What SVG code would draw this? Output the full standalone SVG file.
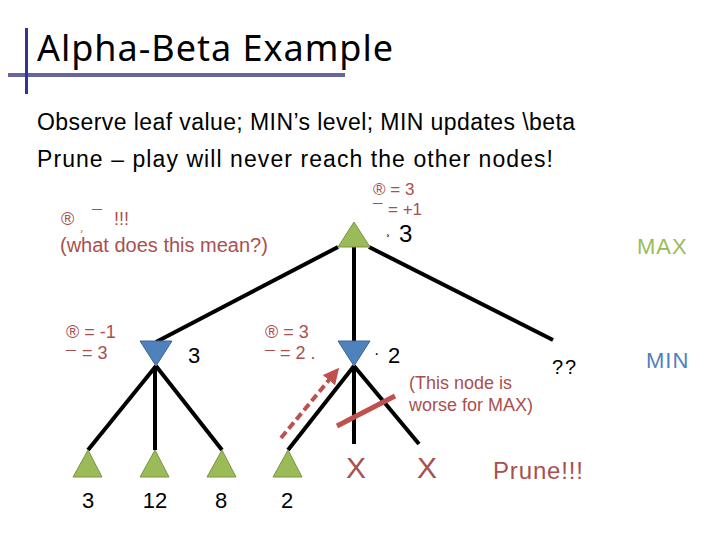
<svg xmlns="http://www.w3.org/2000/svg" width="720" height="540" viewBox="0 0 720 540">
<defs>
<style>
.ann{font-family:"Liberation Sans",Arial,sans-serif;fill:#a9504e}
.blk{font-family:"Liberation Sans",Arial,sans-serif;fill:#000}
.edge{stroke:#000;stroke-width:4;fill:none}
.max{fill:#9bbb59;stroke:#7a9446;stroke-width:1}
.min{fill:#4f81bd;stroke:#3a6595;stroke-width:1}
</style>
<marker id="ah" markerWidth="4" markerHeight="4" refX="2" refY="2" orient="auto" markerUnits="strokeWidth">
<path d="M0,0 L4,2 L0,4 z" fill="#c0504d"/>
</marker>
</defs>
<rect width="720" height="540" fill="#fff"/>
<g id="title">
<line x1="8" y1="75" x2="345" y2="75" stroke="#666699" stroke-width="4"/>
<line x1="26.5" y1="28" x2="26.5" y2="94" stroke="#333399" stroke-width="3"/>
<text x="37" y="61" font-family="'Noto Sans','Open Sans',sans-serif" font-size="36" textLength="356" fill="#000">Alpha-Beta Example</text>
</g>
<g id="body">
<text class="blk" x="37" y="130" font-size="23" textLength="538">Observe leaf value; MIN’s level; MIN updates \beta</text>
<text class="blk" x="37" y="167" font-size="23" textLength="516">Prune – play will never reach the other nodes!</text>
</g>
<g id="connectors">
<line class="edge" x1="338" y1="247" x2="156" y2="342"/>
<line class="edge" x1="354" y1="246" x2="354" y2="342"/>
<line class="edge" x1="369" y1="247" x2="553" y2="340"/>
<line class="edge" x1="156" y1="366" x2="88" y2="450"/>
<line class="edge" x1="155" y1="366" x2="155" y2="450"/>
<line class="edge" x1="156" y1="366" x2="222" y2="450"/>
<line class="edge" x1="354" y1="366" x2="288" y2="450"/>
<line class="edge" x1="354" y1="366" x2="354" y2="444"/>
<line class="edge" x1="354" y1="366" x2="419" y2="444"/>
<line x1="337" y1="426" x2="395" y2="396" stroke="#c0504d" stroke-width="5"/>
<line x1="281" y1="438" x2="334" y2="374" stroke="#c0504d" stroke-width="4" stroke-dasharray="8 4" marker-end="url(#ah)"/>
</g>
<g id="root">
<polygon class="max" points="354,222 338,247 370,247"/>
<text class="blk" x="386" y="234" font-size="12">¸</text>
<text class="blk" x="399" y="242" font-size="24">3</text>
<text class="ann" x="373" y="195" font-size="17">® = 3</text>
<text class="ann" x="373" y="216" font-size="17">¯</text>
<text class="ann" x="388" y="215" font-size="17">= +1</text>
</g>
<g id="note">
<text class="ann" x="61" y="225" font-size="18">®</text>
<text class="ann" x="80" y="230" font-size="10">¸</text>
<text class="ann" x="92" y="223" font-size="18">¯</text>
<text class="ann" x="114" y="225" font-size="18">!!!</text>
<text class="ann" x="60" y="252" font-size="20">(what does this mean?)</text>
</g>
<g id="min1">
<polygon class="min" points="140,341 172,341 156,366"/>
<text class="blk" x="188" y="363" font-size="22">3</text>
<text class="ann" x="66" y="338" font-size="18">® = -1</text>
<text class="ann" x="66" y="364" font-size="18">¯</text>
<text class="ann" x="82" y="359" font-size="18">= 3</text>
</g>
<g id="min2">
<polygon class="min" points="338,341 370,341 354,366"/>
<text class="blk" x="374" y="359" font-size="16">·</text>
<text class="blk" x="388" y="363" font-size="22">2</text>
<text class="ann" x="265" y="338" font-size="18">® = 3</text>
<text class="ann" x="265" y="364" font-size="18">¯</text>
<text class="ann" x="280" y="359" font-size="18">= 2 .</text>
<text class="ann" x="409" y="389" font-size="18">(This node is</text>
<text class="ann" x="409" y="411" font-size="18">worse for MAX)</text>
</g>
<g id="min3">
<text class="blk" x="552" y="374" font-size="20" letter-spacing="2">??</text>
</g>
<g id="leaf1">
<polygon class="max" points="88,450 73,477 102,477"/>
<text class="blk" x="88" y="508" font-size="22" text-anchor="middle">3</text>
</g>
<g id="leaf2">
<polygon class="max" points="155,450 140,477 169,477"/>
<text class="blk" x="155" y="508" font-size="22" text-anchor="middle">12</text>
</g>
<g id="leaf3">
<polygon class="max" points="222,450 207,477 236,477"/>
<text class="blk" x="221" y="508" font-size="22" text-anchor="middle">8</text>
</g>
<g id="leaf4">
<polygon class="max" points="288,450 273,477 302,477"/>
<text class="blk" x="287" y="508" font-size="22" text-anchor="middle">2</text>
</g>
<g id="pruned">
<text class="ann" x="356" y="478" font-size="30" text-anchor="middle">X</text>
<text class="ann" x="427" y="478" font-size="30" text-anchor="middle">X</text>
<text class="ann" x="493" y="479" font-size="24" textLength="90">Prune!!!</text>
</g>
<g id="levels">
<text x="637" y="254" font-family="'Liberation Sans',Arial,sans-serif" font-size="22" letter-spacing="1" fill="#9bbb59">MAX</text>
<text x="646" y="368" font-family="'Liberation Sans',Arial,sans-serif" font-size="22" letter-spacing="1" fill="#4f81bd">MIN</text>
</g>
</svg>
